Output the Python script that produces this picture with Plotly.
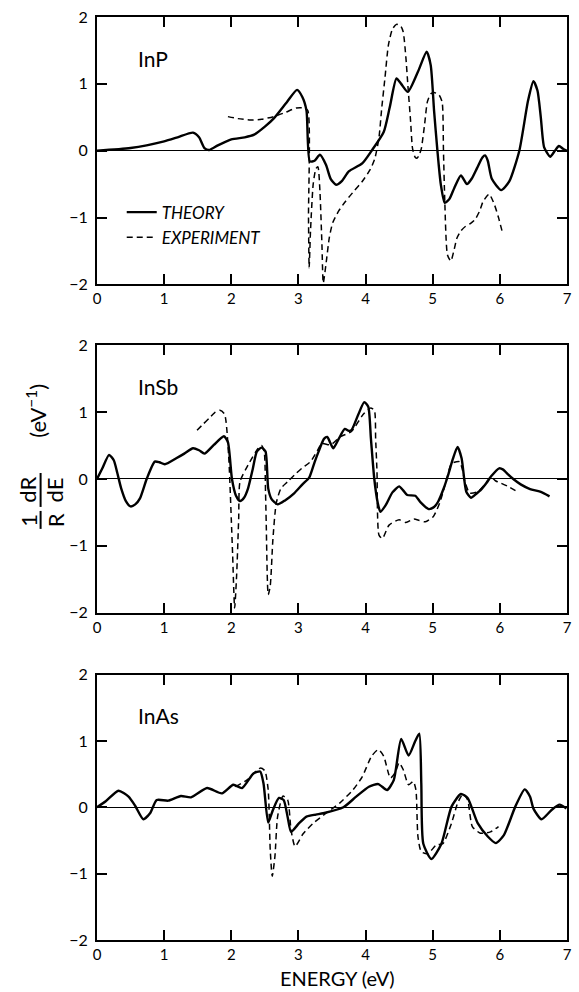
import plotly.graph_objects as go
from plotly.subplots import make_subplots

# ---------------- data ----------------
inp_th_x = [0, 0.5, 1.0, 1.2, 1.43, 1.52, 1.6, 1.67, 1.8, 2.0, 2.2, 2.34, 2.5, 2.63, 2.83, 2.98, 3.06, 3.12, 3.17, 3.24, 3.32, 3.41, 3.48, 3.56, 3.65, 3.75, 3.95, 4.09, 4.27, 4.36, 4.46, 4.53, 4.63, 4.78, 4.91, 4.97, 5.02, 5.07, 5.12, 5.18, 5.25, 5.32, 5.42, 5.51, 5.58, 5.66, 5.74, 5.78, 5.82, 5.88, 6.02, 6.14, 6.29, 6.42, 6.50, 6.56, 6.61, 6.66, 6.75, 6.82, 6.88, 6.94, 7.0]
inp_th_y = [0, 0.04, 0.14, 0.2, 0.27, 0.2, 0.04, 0.01, 0.08, 0.17, 0.2, 0.24, 0.36, 0.48, 0.73, 0.91, 0.8, 0.6, -0.16, -0.15, -0.06, -0.21, -0.42, -0.51, -0.45, -0.31, -0.19, 0, 0.28, 0.65, 1.08, 1.0, 0.88, 1.18, 1.48, 1.28, 0.6, 0, -0.5, -0.78, -0.72, -0.56, -0.37, -0.5, -0.42, -0.26, -0.1, -0.07, -0.15, -0.42, -0.59, -0.46, 0, 0.75, 1.04, 0.9, 0.5, 0.05, -0.09, 0, 0.07, 0.03, 0]

inp_ex_x = [1.95, 2.1, 2.29, 2.45, 2.63, 2.8, 2.97, 3.08, 3.14, 3.15, 3.16, 3.18, 3.22, 3.26, 3.29, 3.32, 3.35, 3.37, 3.41, 3.46, 3.51, 3.6, 3.70, 3.83, 3.95, 4.07, 4.14, 4.2, 4.24, 4.29, 4.34, 4.4, 4.46, 4.52, 4.56, 4.6, 4.63, 4.67, 4.70, 4.74, 4.77, 4.8, 4.83, 4.88, 4.92, 4.97, 5.02, 5.09, 5.14, 5.16, 5.18, 5.22, 5.27, 5.31, 5.36, 5.42, 5.49, 5.56, 5.63, 5.70, 5.75, 5.84, 5.92, 5.98, 6.04]
inp_ex_y = [0.51, 0.48, 0.46, 0.47, 0.51, 0.57, 0.64, 0.64, 0.6, -1.0, -1.75, -1.2, -0.5, -0.27, -0.24, -0.6, -1.4, -1.98, -1.7, -1.3, -1.08, -0.9, -0.76, -0.6, -0.46, -0.28, -0.11, 0.2, 0.63, 1.1, 1.58, 1.82, 1.89, 1.87, 1.78, 1.4, 0.98, 0.45, 0.03, -0.1, -0.11, -0.06, 0.03, 0.4, 0.73, 0.85, 0.87, 0.84, 0.73, 0, -0.76, -1.56, -1.65, -1.52, -1.31, -1.2, -1.13, -1.09, -1.03, -0.9, -0.76, -0.65, -0.81, -1.0, -1.23]

insb_th_x = [0, 0.08, 0.18, 0.25, 0.3, 0.36, 0.43, 0.50, 0.57, 0.64, 0.74, 0.86, 0.93, 1.01, 1.18, 1.3, 1.43, 1.52, 1.6, 1.74, 1.89, 1.95, 2.01, 2.07, 2.13, 2.19, 2.25, 2.32, 2.38, 2.45, 2.51, 2.55, 2.6, 2.69, 2.8, 2.94, 3.06, 3.16, 3.24, 3.30, 3.38, 3.43, 3.47, 3.52, 3.6, 3.69, 3.75, 3.79, 3.89, 3.98, 4.04, 4.08, 4.13, 4.18, 4.22, 4.30, 4.40, 4.50, 4.56, 4.62, 4.74, 4.82, 4.94, 5.02, 5.08, 5.16, 5.23, 5.30, 5.37, 5.43, 5.50, 5.57, 5.65, 5.72, 5.80, 5.87, 5.99, 6.05, 6.11, 6.2, 6.31, 6.45, 6.60, 6.74]
insb_th_y = [0, 0.16, 0.36, 0.28, 0.1, -0.14, -0.33, -0.41, -0.38, -0.29, 0, 0.26, 0.25, 0.22, 0.31, 0.38, 0.46, 0.43, 0.38, 0.51, 0.64, 0.55, 0, -0.25, -0.33, -0.28, -0.14, 0.15, 0.41, 0.47, 0.41, -0.14, -0.3, -0.38, -0.32, -0.21, -0.08, 0.02, 0.25, 0.41, 0.6, 0.63, 0.55, 0.46, 0.6, 0.75, 0.72, 0.73, 0.96, 1.15, 1.08, 0.6, 0, -0.35, -0.49, -0.39, -0.2, -0.11, -0.17, -0.24, -0.25, -0.35, -0.45, -0.42, -0.34, -0.15, 0.06, 0.3, 0.48, 0.31, -0.19, -0.28, -0.22, -0.16, -0.06, 0.04, 0.16, 0.14, 0.08, 0, -0.08, -0.15, -0.19, -0.26]

insb_ex_x = [1.49, 1.58, 1.67, 1.75, 1.83, 1.9, 1.96, 2.0, 2.02, 2.05, 2.08, 2.11, 2.13, 2.25, 2.40, 2.45, 2.49, 2.51, 2.52, 2.55, 2.58, 2.62, 2.67, 2.74, 2.84, 2.94, 3.05, 3.18, 3.28, 3.35, 3.48, 3.62, 3.79, 3.96, 4.07, 4.13, 4.15, 4.17, 4.20, 4.25, 4.35, 4.50, 4.60, 4.72, 4.80, 4.89, 5.01, 5.11, 5.21, 5.28, 5.40, 5.44, 5.48, 5.55, 5.67, 5.78, 5.87, 5.94, 6.01, 6.14, 6.26]
insb_ex_y = [0.73, 0.82, 0.91, 0.99, 1.03, 0.97, 0.36, -0.6, -1.13, -1.93, -1.43, -0.6, -0.04, 0.21, 0.46, 0.5, 0.41, -0.2, -0.64, -1.73, -1.6, -0.9, -0.36, -0.14, -0.04, 0.06, 0.16, 0.26, 0.42, 0.53, 0.51, 0.63, 0.71, 0.96, 1.06, 1.03, 0.6, 0.11, -0.84, -0.89, -0.69, -0.61, -0.65, -0.6, -0.62, -0.64, -0.56, -0.34, 0.01, 0.23, 0.26, 0.15, -0.04, -0.21, -0.19, -0.08, 0.03, -0.03, -0.06, -0.12, -0.19]

inas_th_x = [0, 0.13, 0.32, 0.47, 0.57, 0.69, 0.79, 0.89, 1.06, 1.25, 1.40, 1.64, 1.86, 2.03, 2.16, 2.33, 2.43, 2.48, 2.55, 2.62, 2.71, 2.78, 2.84, 2.89, 3.01, 3.12, 3.26, 3.37, 3.67, 3.86, 4.05, 4.19, 4.32, 4.42, 4.53, 4.64, 4.74, 4.80, 4.83, 4.86, 4.98, 5.13, 5.28, 5.42, 5.52, 5.67, 5.82, 5.94, 6.06, 6.23, 6.37, 6.45, 6.50, 6.62, 6.77, 6.89, 6.99]
inas_th_y = [0, 0.09, 0.25, 0.16, 0.02, -0.18, -0.09, 0.11, 0.1, 0.17, 0.15, 0.29, 0.21, 0.34, 0.29, 0.51, 0.54, 0.36, -0.23, -0.04, 0.14, 0.11, -0.15, -0.37, -0.24, -0.14, -0.11, -0.09, 0, 0.16, 0.31, 0.35, 0.26, 0.41, 1.03, 0.78, 1.0, 1.11, 0.36, -0.55, -0.78, -0.55, 0.01, 0.2, 0.14, -0.24, -0.44, -0.54, -0.42, 0.01, 0.27, 0.16, -0.02, -0.18, -0.04, 0.04, -0.02]

inas_ex_x = [2.06, 2.23, 2.43, 2.50, 2.55, 2.58, 2.61, 2.65, 2.69, 2.77, 2.84, 2.89, 2.95, 3.07, 3.22, 3.41, 3.61, 3.81, 3.95, 4.09, 4.19, 4.27, 4.37, 4.44, 4.50, 4.56, 4.64, 4.71, 4.75, 4.78, 4.83, 4.93, 5.05, 5.15, 5.28, 5.37, 5.45, 5.52, 5.59, 5.71, 5.86, 5.98]
inas_ex_y = [0.31, 0.41, 0.59, 0.55, 0.26, -0.64, -1.04, -0.74, -0.14, 0.17, 0.11, -0.34, -0.59, -0.4, -0.24, -0.09, 0.06, 0.26, 0.46, 0.77, 0.87, 0.77, 0.44, 0.52, 0.67, 0.57, 0.34, 0.39, 0.26, -0.44, -0.67, -0.7, -0.57, -0.55, -0.24, 0.06, 0.2, 0.11, -0.29, -0.39, -0.37, -0.29]

panel_names = ["InP", "InSb", "InAs"]
series_names = ["THEORY", "EXPERIMENT"]
x_ticks = [0, 1, 2, 3, 4, 5, 6, 7]
y_ticks = [-2, -1, 0, 1, 2]

# ---------------- figure ----------------
FONT = "Lato"
W, H = 579, 992
ML, MR, MT, MB = 97, 7, 15, 52
PW, PH = W - ML - MR, H - MT - MB


def py(px):
    return (H - MB - px) / PH


def px_(x):
    return (x - ML) / PW


fig = make_subplots(rows=3, cols=1)
data = [(inp_th_x, inp_th_y, inp_ex_x, inp_ex_y),
        (insb_th_x, insb_th_y, insb_ex_x, insb_ex_y),
        (inas_th_x, inas_th_y, inas_ex_x, inas_ex_y)]

for i, (tx, ty, ex, ey) in enumerate(data):
    r = i + 1
    fig.add_trace(go.Scatter(x=tx, y=ty, mode="lines", name=series_names[0],
                             line=dict(color="black", width=2.4, shape="spline", smoothing=0.6),
                             showlegend=(i == 0)), row=r, col=1)
    fig.add_trace(go.Scatter(x=ex, y=ey, mode="lines", name=series_names[1],
                             line=dict(color="black", width=1.5, dash="6px,4px", shape="spline", smoothing=0.6),
                             showlegend=(i == 0)), row=r, col=1)

domains = [(py(283), 1.0), (py(612), py(344)), (0.0, py(674))]
for i in range(3):
    r = i + 1
    fig.update_xaxes(range=[0, 7], tickvals=x_ticks, ticks="inside", ticklen=10, tickwidth=1.5,
                     tickcolor="black", showline=True, linewidth=2, linecolor="black", mirror="ticks",
                     showgrid=False, zeroline=False,
                     tickfont=dict(family=FONT, size=15, color="black"), row=r, col=1)
    fig.update_yaxes(range=[-2, 2], tickvals=y_ticks, ticks="inside", ticklen=10, tickwidth=1.5,
                     tickcolor="black", showline=True, linewidth=2, linecolor="black", mirror="ticks",
                     showgrid=False, zeroline=True, zerolinewidth=1, zerolinecolor="black",
                     ticklabelstandoff=4,
                     tickfont=dict(family=FONT, size=16, color="black"), domain=list(domains[i]),
                     row=r, col=1)
    yref = "y" if i == 0 else f"y{r}"
    xref = "x" if i == 0 else f"x{r}"
    fig.add_annotation(text=panel_names[i], xref=f"{xref} domain", yref=f"{yref} domain",
                       x=0.084, y=0.845, xanchor="left", yanchor="middle", showarrow=False,
                       font=dict(family=FONT, size=21, color="black"))

# x axis title
fig.add_annotation(text="ENERGY (eV)", xref="paper", yref="paper", x=px_(340), y=py(978),
                   xanchor="center", yanchor="middle", showarrow=False,
                   font=dict(family=FONT, size=20, color="black"))

# y axis label built from fraction pieces
lab_font = dict(family=FONT, size=22, color="black")
for txt, x0, y0 in [("1", 28, 519), ("R", 55, 519), ("dR", 27, 489), ("dE", 55, 489),
                    ("(eV<sup>−1</sup>)", 35, 410)]:
    fig.add_annotation(text=txt, xref="paper", yref="paper", x=px_(x0), y=py(y0),
                       xanchor="center", yanchor="middle", textangle=-90, showarrow=False,
                       font=lab_font)
for (y1, y2) in [(510, 528), (472, 506)]:
    fig.add_shape(type="line", xref="paper", yref="paper", x0=px_(40), x1=px_(40),
                  y0=py(y1), y1=py(y2), line=dict(color="black", width=2))

fig.update_layout(
    width=W, height=H,
    margin=dict(l=ML, r=MR, t=MT, b=MB),
    paper_bgcolor="white", plot_bgcolor="white",
    legend=dict(x=px_(122), y=py(193), xanchor="left", yanchor="top",
                bgcolor="rgba(0,0,0,0)", itemwidth=30, tracegroupgap=0,
                font=dict(family=FONT, size=17, color="black", style="italic")),
)

fig.write_html("out.html")
